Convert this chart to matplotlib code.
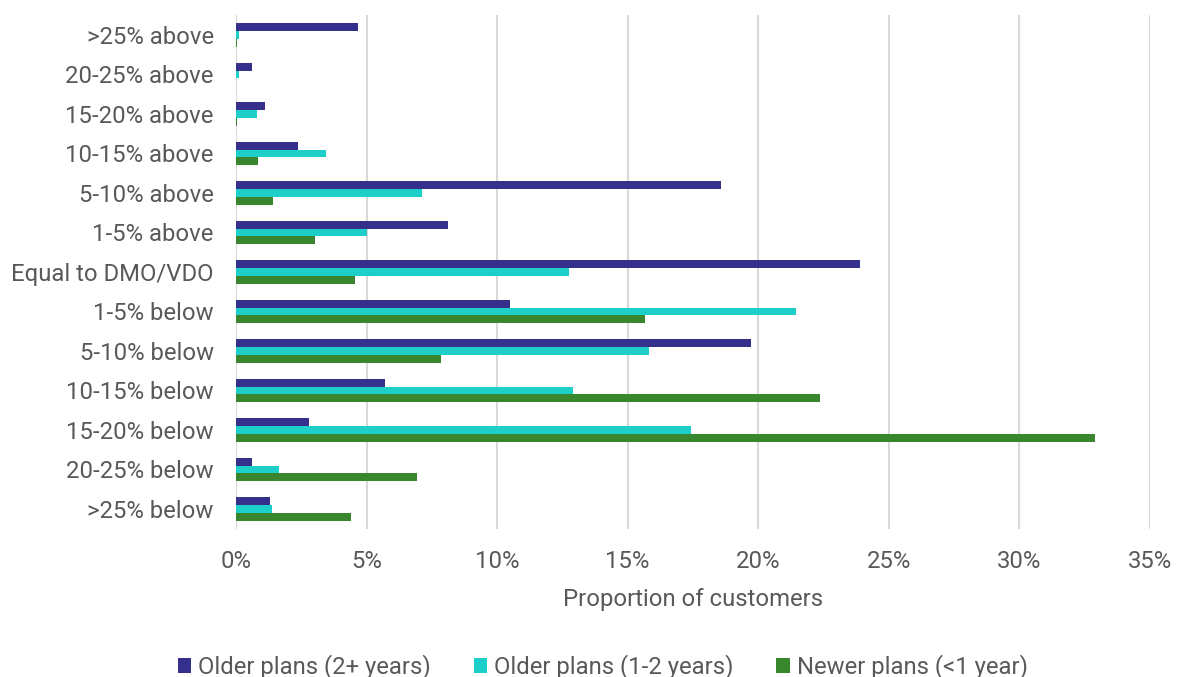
# Distribution of customers by price relative to the DMO/VDO, by plan age

import matplotlib.pyplot as plt
import numpy as np

plt.rcParams["font.family"] = ["Roboto", "DejaVu Sans"]

categories = [">25% above", "20-25% above", "15-20% above", "10-15% above",
              "5-10% above", "1-5% above", "Equal to DMO/VDO", "1-5% below",
              "5-10% below", "10-15% below", "15-20% below", "20-25% below",
              ">25% below"]

older_2plus = [4.69, 0.60, 1.13, 2.37, 18.56, 8.13, 23.89, 10.49, 19.71, 5.71, 2.80, 0.60, 1.31]
older_1to2 = [0.11, 0.10, 0.82, 3.44, 7.12, 5.02, 12.75, 21.43, 15.83, 12.89, 17.41, 1.66, 1.37]
newer = [0.05, 0.00, 0.02, 0.83, 1.40, 3.01, 4.54, 15.68, 7.85, 22.35, 32.91, 6.94, 4.40]

purple_col = "#35308b"
cyan_col = "#1ecfc9"
green_col = "#3a862e"
text_col = "#595959"
fs = 17.2

fig = plt.figure(figsize=(11.77, 6.77), dpi=100)
ax = fig.add_axes([0.2005, 0.219, 0.7765, 0.7585])

y = np.arange(len(categories))
h = 0.2
ax.barh(y - h, older_2plus, height=h, color=purple_col, label="Older plans (2+ years)", zorder=3)
ax.barh(y, older_1to2, height=h, color=cyan_col, label="Older plans (1-2 years)", zorder=3)
ax.barh(y + h, newer, height=h, color=green_col, label="Newer plans (<1 year)", zorder=3)

ax.set_ylim(len(categories) - 0.5, -0.5)
ax.set_xlim(0, 35)
ax.set_xticks(np.arange(0, 36, 5))
ax.set_xticklabels([f"{v}%" for v in range(0, 36, 5)])
ax.set_yticks(y)
ax.set_yticklabels(categories)

ax.grid(axis="x", color="#d9d9d9", linewidth=1.5, zorder=0)
ax.grid(axis="y", visible=False)
for s in ax.spines.values():
    s.set_visible(False)
ax.tick_params(axis="both", length=0, labelsize=fs, colors=text_col)
ax.tick_params(axis="y", pad=16)
ax.tick_params(axis="x", pad=15)
ax.set_xlabel("Proportion of customers", fontsize=fs, color=text_col, labelpad=11)

fig.legend(loc="center", bbox_to_anchor=(0.512, 0.015), ncol=3, frameon=False,
           fontsize=fs, labelcolor=text_col, handlelength=0.55, handleheight=0.55,
           handletextpad=0.3, columnspacing=1.8)

fig.savefig("out.png", dpi=100)
